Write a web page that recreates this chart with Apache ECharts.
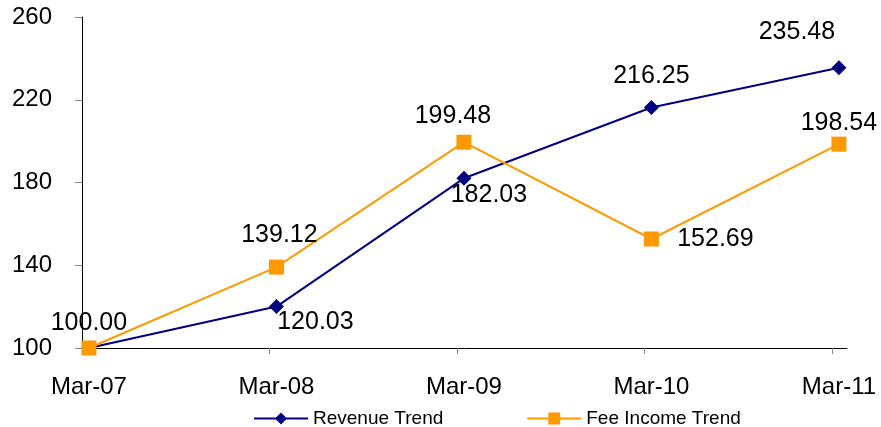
<!DOCTYPE html>
<html>
<head>
<meta charset="utf-8">
<script src="https://cdn.jsdelivr.net/npm/echarts@6/dist/echarts.min.js"></script>
<style>html,body{margin:0;padding:0;background:#fff}#c{width:881px;height:427px}</style>
</head>
<body>
<div id="c"></div>
<script>
const categories = ['Mar-07', 'Mar-08', 'Mar-09', 'Mar-10', 'Mar-11'];
const revenueTrend = [100.00, 120.03, 182.03, 216.25, 235.48];
const feeIncomeTrend = [100.00, 139.12, 199.48, 152.69, 198.54];
const yTicks = [100, 140, 180, 220, 260];

// label placement (offsets from point, px); null = hidden
const revenueLabelOffsets = [[0, -25], [39, 16], [25, 17], [0, -31], [-42, -36]];
const feeLabelOffsets = [null, [3, -32], [-11, -26], [64, 0], [0, -21]];

const FONT = '"Liberation Sans", Arial, sans-serif';
const X_MIN = -0.037, X_MAX = 4.043;

function build(values, offsets) {
  return values.map((v, i) => {
    const off = offsets[i];
    return {
      value: [i, v],
      label: off ? { show: true, position: 'inside', offset: off } : { show: false }
    };
  });
}

const labelStyle = {
  show: true,
  formatter: p => p.value[1].toFixed(2),
  color: '#000',
  fontFamily: FONT,
  fontSize: 25,
  align: 'center',
  verticalAlign: 'middle'
};

const chart = echarts.init(document.getElementById('c'), null, { renderer: 'canvas' });
chart.setOption({
  animation: false,
  backgroundColor: '#fff',
  grid: { left: 82, right: 34, top: 17, bottom: 79, containLabel: false },
  xAxis: {
    type: 'value',
    min: X_MIN,
    max: X_MAX,
    axisLine: { onZero: false, lineStyle: { color: '#000', width: 1 } },
    axisTick: {
      show: true, length: 6, lineStyle: { color: '#888' },
      customValues: categories.slice(1).map((c, i) => i + 1 + X_MIN)
    },
    axisLabel: {
      customValues: categories.map((c, i) => i),
      formatter: v => categories[Math.round(v)] || '',
      color: '#000', fontFamily: FONT, fontSize: 24, margin: 27
    },
    splitLine: { show: false }
  },
  yAxis: {
    type: 'value',
    min: yTicks[0],
    max: yTicks[yTicks.length - 1],
    interval: 40,
    axisLine: { show: true, onZero: false, lineStyle: { color: '#000', width: 1 } },
    axisTick: { show: true, length: 7, lineStyle: { color: '#888' } },
    axisLabel: { color: '#000', fontFamily: FONT, fontSize: 24, margin: 30 },
    splitLine: { show: false }
  },
  legend: {
    left: 248,
    top: 404,
    itemWidth: 54,
    itemHeight: 15,
    itemGap: 83,
    textStyle: { color: '#000', fontFamily: FONT, fontSize: 19 },
    data: ['Revenue Trend', 'Fee Income Trend']
  },
  series: [
    {
      name: 'Revenue Trend',
      type: 'line',
      data: build(revenueTrend, revenueLabelOffsets),
      symbol: 'diamond',
      symbolSize: 15,
      color: '#000080',
      lineStyle: { color: '#000080', width: 2 },
      itemStyle: { color: '#000080' },
      label: labelStyle,
      z: 2
    },
    {
      name: 'Fee Income Trend',
      type: 'line',
      data: build(feeIncomeTrend, feeLabelOffsets),
      symbol: 'rect',
      symbolSize: 15,
      color: '#FF9900',
      lineStyle: { color: '#FF9900', width: 2 },
      itemStyle: { color: '#FF9900' },
      label: labelStyle,
      z: 3
    }
  ]
});
</script>
</body>
</html>
